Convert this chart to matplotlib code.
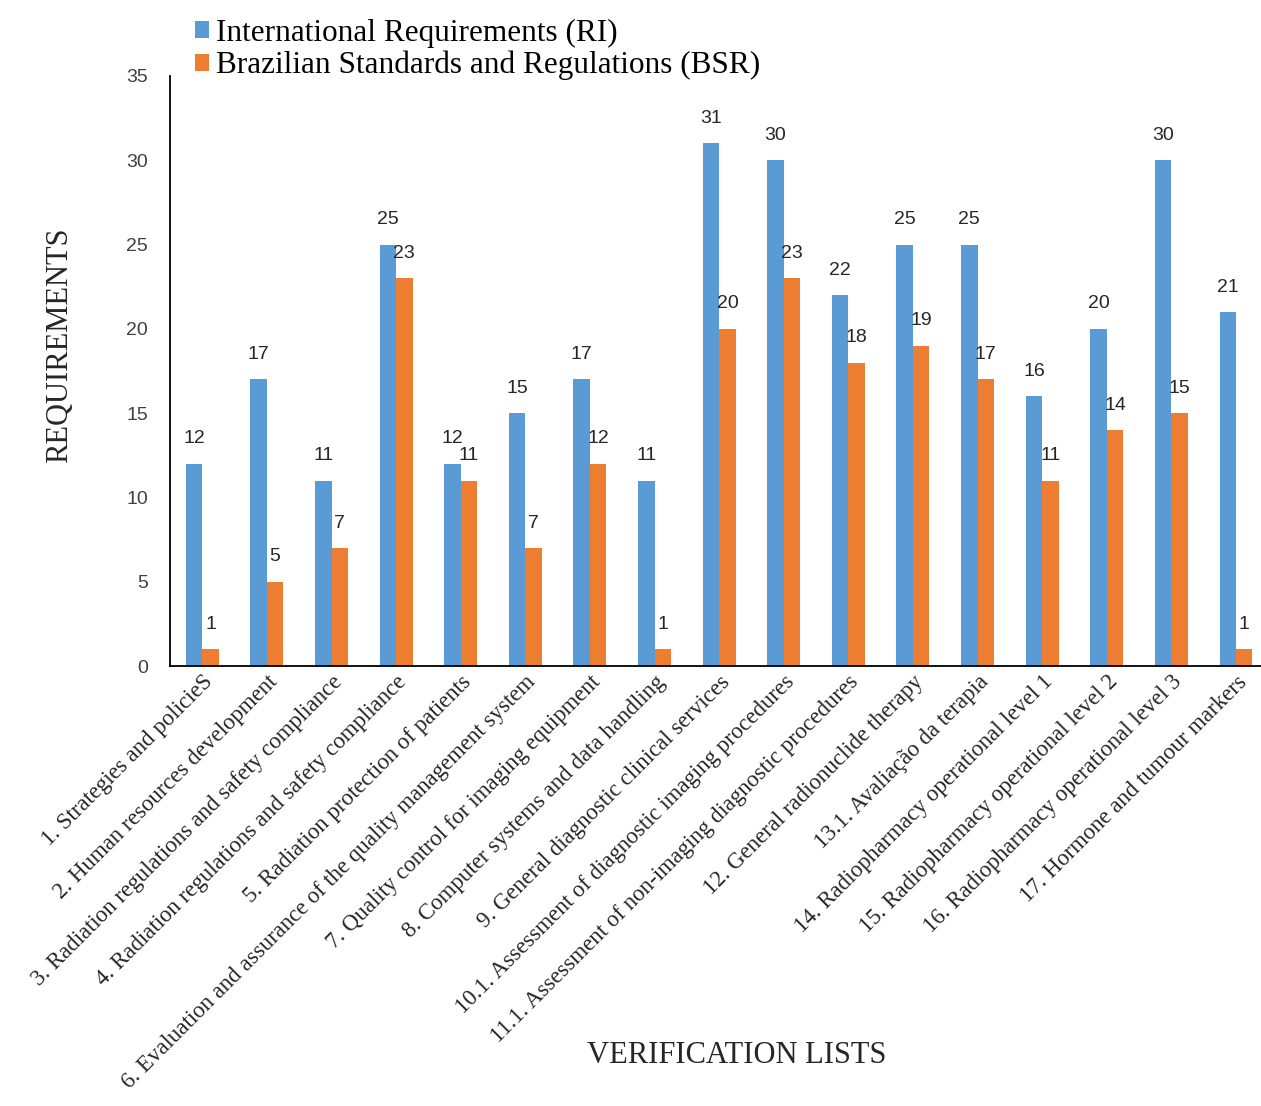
import numpy as np
import matplotlib
matplotlib.use('Agg')
import matplotlib.pyplot as plt

categories = [
    "1. Strategies and policieS",
    "2. Human resources development",
    "3. Radiation regulations and safety compliance",
    "4. Radiation regulations and safety compliance",
    "5. Radiation protection of patients",
    "6. Evaluation and assurance of the quality management system",
    "7. Quality control for imaging equipment",
    "8. Computer systems and data handling",
    "9. General diagnostic clinical services",
    "10.1. Assessment of diagnostic imaging procedures",
    "11.1. Assessment of non-imaging diagnostic procedures",
    "12. General radionuclide therapy",
    "13.1. Avaliação da terapia",
    "14. Radiopharmacy operational level 1",
    "15. Radiopharmacy operational level 2",
    "16. Radiopharmacy operational level 3",
    "17. Hormone and tumour markers",
]
ri_values = [12, 17, 11, 25, 12, 15, 17, 11, 31, 30, 22, 25, 25, 16, 20, 30, 21]
bsr_values = [1, 5, 7, 23, 11, 7, 12, 1, 20, 23, 18, 19, 17, 11, 14, 15, 1]
series_names = ["International Requirements (RI)", "Brazilian Standards and Regulations (BSR)"]

blue = '#5B9BD5'
orange = '#ED7D31'
serif = 'Liberation Serif'
sans = ['Liberation Sans Narrow', 'Liberation Sans']

fig = plt.figure(figsize=(12.61, 11.06), dpi=100)
ax = fig.add_axes([0.1348, 0.3978, 0.871, 0.5335])

x = np.arange(len(categories))
w = 0.255
b1 = ax.bar(x - w / 2, ri_values, w, color=blue, label=series_names[0])
b2 = ax.bar(x + w / 2, bsr_values, w, color=orange, label=series_names[1])

for bars, vals in ((b1, ri_values), (b2, bsr_values)):
    for r, v in zip(bars, vals):
        ax.annotate(str(v), (r.get_x() + r.get_width() / 2, v), xytext=(0, 18),
                    textcoords='offset points', ha='center', va='center',
                    fontsize=14, color='#262626', family=sans)

ax.set_xlim(-0.5, len(categories) - 0.5)
ax.set_ylim(0, 35)
ax.set_yticks(range(0, 36, 5))
ax.tick_params(axis='y', length=0, pad=16, labelsize=14, labelcolor='#404040')
ax.tick_params(axis='x', length=0, pad=4)
for lab in ax.get_yticklabels():
    lab.set_family(sans)

ax.set_xticks(x)
ax.set_xticklabels(categories, rotation=45, ha='right', rotation_mode='anchor',
                   fontsize=16.5, family=serif, color='#262626')

for s in ('top', 'right'):
    ax.spines[s].set_visible(False)
ax.spines['left'].set_linewidth(1.3)
ax.spines['bottom'].set_linewidth(1.3)

fig.text(0.047, 0.688, "REQUIREMENTS", rotation=90, ha='center', va='center',
         fontsize=22, family=serif, color='#262626')
fig.text(0.584, 0.046, "VERIFICATION LISTS", ha='center', va='center',
         fontsize=22, family=serif, color='#262626')

leg = fig.legend(loc='upper left', bbox_to_anchor=(0.14, 1.0), frameon=False,
                 prop={'family': serif, 'size': 22.5}, handlelength=0.45, handleheight=0.45,
                 handletextpad=0.2, labelspacing=0.1, borderaxespad=0.2)

plt.savefig('out.png', dpi=100)
